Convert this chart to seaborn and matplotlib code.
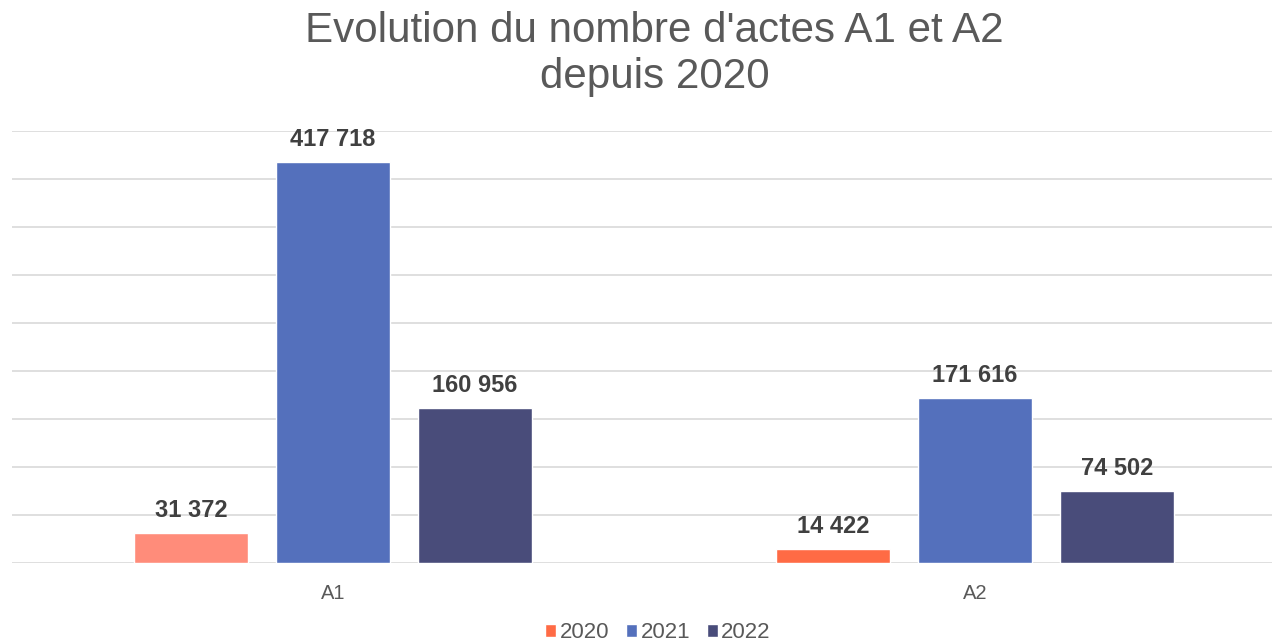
import matplotlib
matplotlib.use("Agg")
import matplotlib.pyplot as plt
import seaborn as sns
import pandas as pd
from matplotlib.patches import Patch

categories = ["A1", "A2"]
years = ["2020", "2021", "2022"]
values_2020 = [31372, 14422]
values_2021 = [417718, 171616]
values_2022 = [160956, 74502]
labels_fmt = lambda v: f"{v:,}".replace(",", " ")

df = pd.DataFrame({
    "cat": categories * 3,
    "year": [y for y in years for _ in categories],
    "val": values_2020 + values_2021 + values_2022,
})

sns.set_theme(style="white")
plt.rcParams["font.family"] = ["Liberation Sans", "DejaVu Sans"]

palette = {"2020": "#FF6B45", "2021": "#5470BC", "2022": "#494C7A"}

fig = plt.figure(figsize=(12.72, 6.42), dpi=100)
W, H = 1272, 642
ax = fig.add_axes([12 / W, (H - 563) / H, (1296 - 12) / W, (563 - 131) / H])

sns.barplot(data=df, x="cat", y="val", hue="year", palette=palette,
            width=0.663, gap=0.2, ax=ax, legend=False, saturation=1)

# A1 2020 bar is a lighter salmon in the reference
ax.patches[0].set_facecolor("#FF8C7A")

ax.set_ylim(0, 450000)
ax.set_xlim(-0.5, 1.5)
ax.set_yticks(range(0, 450001, 50000))
ax.set_yticklabels([])
ax.tick_params(axis="y", length=0)
ax.grid(axis="y", color="#d9d9d9", linewidth=1.2)
ax.set_axisbelow(True)
for s in ax.spines.values():
    s.set_visible(False)
ax.set_xlabel("")
ax.set_ylabel("")
ax.tick_params(axis="x", length=0, pad=15, labelsize=14.5, labelcolor="#595959")

for cont in ax.containers:
    ax.bar_label(cont, labels=[labels_fmt(int(v)) for v in cont.datavalues],
                 padding=8, fontsize=17, fontweight="bold", color="#404040")

fig.text(654 / W, 1 - 31 / H, "Evolution du nombre d'actes A1 et A2",
         ha="center", va="center", fontsize=30.3, color="#595959")
fig.text(655 / W, 1 - 77 / H, "depuis 2020", ha="center", va="center",
         fontsize=30.3, color="#595959")

handles = [Patch(facecolor=palette[y], label=y) for y in years]
fig.legend(handles=handles, loc="center", bbox_to_anchor=(658 / W, 1 - 633 / H),
           ncol=3, frameon=False, fontsize=16, handlelength=0.5, handleheight=0.5,
           handletextpad=0.15, columnspacing=0.75, labelcolor="#595959",
           borderpad=0)

fig.savefig("out.png", dpi=100)
